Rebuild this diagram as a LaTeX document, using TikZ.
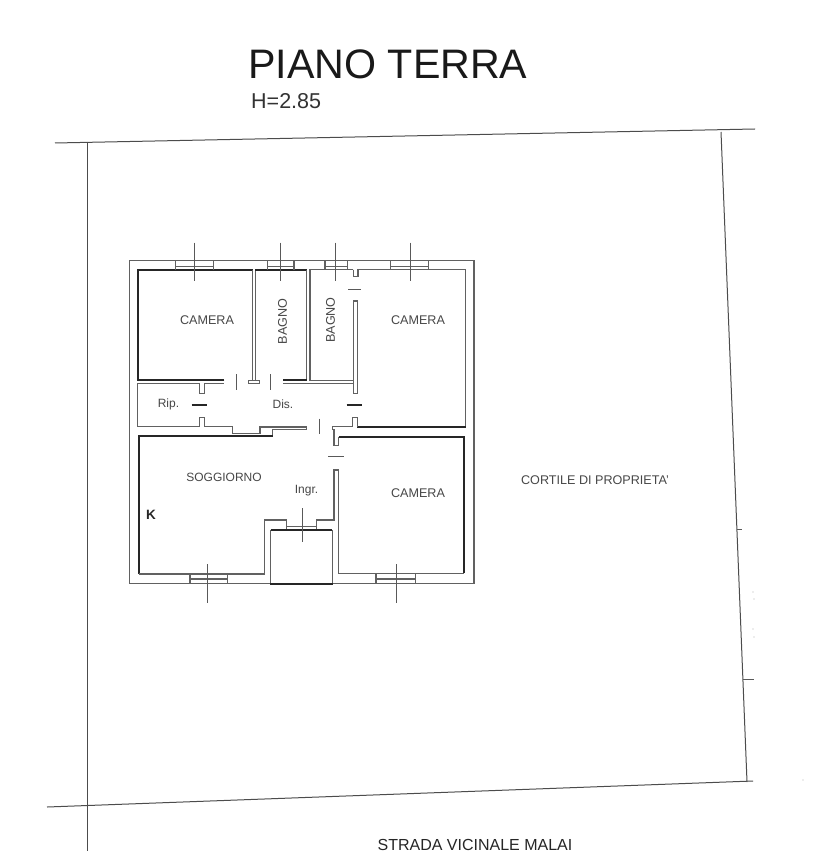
\documentclass[tikz,border=0pt]{standalone}
\usepackage{fontspec}
\setmainfont{Liberation Sans}
\begin{document}
\begin{tikzpicture}[x=1pt,y=-1pt,
  wall/.style={draw=black!62,line width=1.3pt,line join=miter},
  dark/.style={draw=black!85,line width=1.8pt},
  thin/.style={draw=black!65,line width=1pt},
  site/.style={draw=black!70,line width=1pt},
  lbl/.style={inner sep=0pt,text=black!72,font=\fontsize{12.6}{13}\selectfont},
  lblk/.style={inner sep=0pt,text=black!85,font=\fontsize{12}{12}\selectfont}]
\useasboundingbox (0,0) rectangle (815,861);
\fill[white] (0,0) rectangle (815,861);
% site
\draw[site] (55,143) -- (755,129);
\draw[site] (87,142) -- (87,851);
\draw[site] (721,132) -- (747,782);
\draw[site] (47,807) -- (753,781);
\draw[thin] (737,529) -- (742,529);
\draw[thin] (743,679) -- (754,679);
\foreach \p in {(753,592),(754,599),(753,629),(754,637),(803,780)} \fill[black!30] \p circle (0.6);
% outer wall
\draw[wall] (129.3,260.3) rectangle (474,583.3);
% camera NW + bagno 1
\draw[dark] (224.3,380.3) -- (137.7,380.3) -- (137.7,270.3) -- (252.7,270.3);
\draw[wall] (252.7,270.3) -- (252.7,380);
\draw[wall] (255.3,270.3) -- (255.3,380);
\draw[dark] (255.3,270.3) -- (306.7,270.3);
\draw[wall] (306.7,270.3) -- (306.7,380.3);
\draw[dark] (283.3,380.3) -- (306.7,380.3);
\draw[wall] (248.3,383.5) -- (248.3,380.3) -- (259.3,380.3) -- (259.3,383.5) -- cycle;
% ripostiglio + disimpegno south
\draw[wall] (199.3,383.3) -- (137.7,383.3) -- (137.7,426.7) -- (199.3,426.7) -- (199.3,417.7) -- (204.7,417.7) -- (204.7,426.7) -- (232.7,426.7) -- (232.7,433.5) -- (260,433.5) -- (260,427) -- (306.7,427) -- (306.7,429.5) -- (272.7,429.5) -- (272.7,436);
\draw[wall] (199.3,383.3) -- (199.3,393.3) -- (204.7,393.3) -- (204.7,383.3) -- (224.3,383.3);
\draw[wall] (283.3,383.3) -- (353.3,383.3);
% door leaves
\draw[thin] (236,374.3) -- (236,390);
\draw[thin] (270.7,374.3) -- (270.7,390);
\draw[thin] (319.3,418.7) -- (319.3,434);
\draw[dark,line width=1.1pt] (191.7,405) -- (207.3,405);
\draw[dark,line width=1.1pt] (346.7,405) -- (362.3,405);
\draw[thin] (348.3,289) -- (360.7,289);
\draw[thin] (328.3,456.7) -- (344.3,456.7);
% bagno 2 + camera NE
\draw[wall] (353.3,269.7) -- (310,269.7) -- (310,380.3) -- (353.3,380.3) -- (353.3,393.3) -- (357.7,393.3) -- (357.7,301) -- (353.3,301) -- (353.3,380.3);
\draw[wall] (353.3,269.7) -- (353.3,276.3) -- (358,276.3) -- (358,269.7) -- (465.7,269.7) -- (465.7,427.3);
\draw[dark] (465.7,427.3) -- (357.3,427.3);
\draw[wall] (357.3,427.3) -- (357.3,417.3) -- (352.7,417.3) -- (352.7,426.7) -- (332.7,426.7) -- (332.7,429.3) -- (334,429.3) -- (334,445.3) -- (338.7,445.3) -- (338.7,436.7);
% camera SE
\draw[dark] (338.7,436.7) -- (464,436.7) -- (464,573.3);
\draw[wall] (464,573.3) -- (338.7,573.3) -- (338.7,470) -- (334,470) -- (334,520) -- (316.7,520) -- (316.7,529);
% soggiorno
\draw[dark] (272.7,436) -- (139.3,436) -- (139.3,574);
\draw[wall] (139.3,574) -- (264.7,574) -- (264.7,520) -- (286.7,520) -- (286.7,529);
% entrance block
\draw[dark,line width=1.3pt] (270.7,530) -- (332.3,530);
\draw[wall] (270.7,530) -- (270.7,584);
\draw[wall] (332.3,530) -- (332.3,584);
\draw[dark] (270,584.3) -- (332.8,584.3);
% entrance window
\draw[wall] (286.7,526.5) -- (316.7,526.5);
\draw[thin] (302.3,508.3) -- (302.3,541.7);
% windows
\foreach \a/\b/\c in {175.3/213.3/194,267.7/294/280.7,325/347.3/335.7,390.7/428.3/410.7}{
  \draw[wall] (\a,260.3) -- (\a,269.7) (\b,260.3) -- (\b,269.7) (\a,266.3) -- (\b,266.3);
  \draw[thin] (\c,242.5) -- (\c,281);
}
\foreach \a/\b/\c in {190/227.7/207.3,376/415.3/396}{
  \draw[wall] (\a,574) -- (\a,583.3) (\b,574) -- (\b,583.3) (\a,579) -- (\b,579);
  \draw[thin] (\c,564.3) -- (\c,602.7);
}
% texts
\node[anchor=base west,inner sep=0pt,text=black!90,font=\fontsize{41.2}{41}\selectfont] (title) at (248,79) {PIANO TERRA};
\node[anchor=base west,inner sep=0pt,text=black!80,font=\fontsize{21.5}{22}\selectfont] (height) at (251,108.5) {H=2.85};
\node[lbl] (c1) at (207,320) {CAMERA};
\node[lbl] (c2) at (418,320) {CAMERA};
\node[lbl] (c3) at (418,493) {CAMERA};
\node[lbl,rotate=90] (b1) at (282.5,321.5) {BAGNO};
\node[lbl,rotate=90] (b2) at (330.5,320) {BAGNO};
\node[lbl,font=\fontsize{12}{12}\selectfont] (rip) at (168.5,404) {Rip.};
\node[lbl,font=\fontsize{12}{12}\selectfont] (dis) at (283,404) {Dis.};
\node[lbl,font=\fontsize{12}{12}\selectfont] (sog) at (224,477.5) {SOGGIORNO};
\node[lbl,font=\fontsize{12}{12}\selectfont] (ing) at (306.5,491) {Ingr.};
\node[lblk,font=\bfseries\fontsize{13.5}{14}\selectfont] (k) at (151,515) {K};
\node[lbl] (cortile) at (595,480) {CORTILE DI PROPRIETA'};
\node[lblk,font=\fontsize{16}{16}\selectfont] (strada) at (475,845) {STRADA VICINALE MALAI};
\end{tikzpicture}
\end{document}
